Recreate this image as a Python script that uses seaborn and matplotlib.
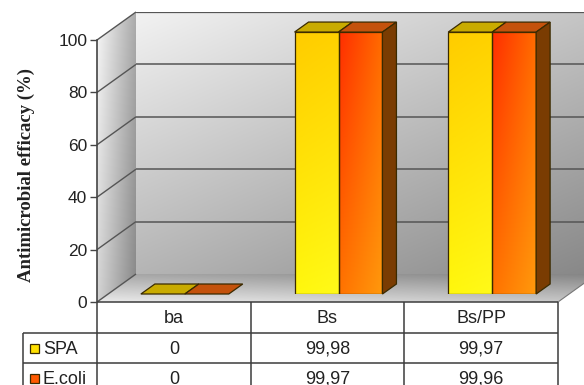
import numpy as np
import pandas as pd
import matplotlib
matplotlib.use("Agg")
import matplotlib.pyplot as plt
import seaborn as sns
from matplotlib.patches import Polygon, Rectangle

# ---- data ----
categories = ["ba", "Bs", "Bs/PP"]
series = ["SPA", "E.coli"]
spa_values = [0, 99.98, 99.97]
ecoli_values = [0, 99.97, 99.96]
y_ticks = [0, 20, 40, 60, 80, 100]
y_label = "Antimicrobial efficacy (%)"

df = pd.DataFrame({
    "category": categories * 2,
    "series": [series[0]] * 3 + [series[1]] * 3,
    "value": spa_values + ecoli_values,
})

# ---- layout (pixels) ----
W, H = 584, 385
FRONT = (97, 40, 461, 262)      # left, top, width, height of the front plane
BACK_SHIFT = (39, -28)          # depth of the 3D box
BAR_SHIFT = (11, -8)            # bars stand half way into the box
BAR_DEPTH = (14, -10)           # depth of each bar
ROW_EDGES = [302, 333, 363, 393]
LABEL_LEFT = 23

sns.set_theme(style="white")
plt.rcParams["font.family"] = ["Liberation Sans", "DejaVu Sans"]

fig = plt.figure(figsize=(W / 100, H / 100), dpi=100)


def rect(l, t, w, h):
    return [l / W, 1 - (t + h) / H, w / W, h / H]


def gray(v):
    return np.dstack([v, v, v])


# full-figure canvas in pixel coordinates for walls and table
canvas = fig.add_axes([0, 0, 1, 1], zorder=0)
canvas.set_xlim(0, W)
canvas.set_ylim(H, 0)
canvas.axis("off")

fl, ft, fw, fh = FRONT
bx, by = BACK_SHIFT
fb = ft + fh  # front floor line


def shaded_poly(pts, func, n=200):
    pts = np.asarray(pts, float)
    x0, y0 = pts.min(axis=0)
    x1, y1 = pts.max(axis=0)
    tx, ty = np.meshgrid(np.linspace(0, 1, n), np.linspace(0, 1, n))
    img = np.clip(func(tx, ty), 0, 1)
    poly = Polygon(pts, closed=True, facecolor="none", edgecolor="none",
                   transform=canvas.transData)
    canvas.add_patch(poly)
    im = canvas.imshow(gray(img), extent=(x0, x1, y1, y0), origin="upper",
                       aspect="auto", interpolation="bilinear", zorder=0)
    im.set_clip_path(poly)


# left wall
left_wall = [(fl, ft), (fl + bx, ft + by), (fl + bx, fb + by), (fl, fb)]
shaded_poly(left_wall, lambda tx, ty: 0.97 - 0.30 * tx - 0.14 * ty)
# floor
floor = [(fl, fb), (fl + fw, fb), (fl + fw + bx, fb + by), (fl + bx, fb + by)]
shaded_poly(floor, lambda tx, ty: 0.66 + 0.26 * ty - 0.14 * tx)

canvas.set_xlim(0, W)
canvas.set_ylim(H, 0)

# back wall with grid lines
back = fig.add_axes(rect(fl + bx, ft + by, fw, fh), zorder=1)
back.set_xlim(-0.5, 2.5)
back.set_ylim(0, 100)
tx, ty = np.meshgrid(np.linspace(0, 1, 300), np.linspace(0, 1, 300))
back.imshow(gray(np.clip(0.95 - 0.24 * ty - 0.18 * tx, 0, 1)),
            extent=(-0.5, 2.5, 0, 100), origin="upper", aspect="auto",
            interpolation="bilinear")
for t in y_ticks[1:]:
    back.axhline(t, color="#555555", lw=1.1 if t < 100 else 0.9, zorder=2)
back.set_xlim(-0.5, 2.5)
back.set_ylim(0, 100)
back.axis("off")

# diagonal grid lines on the left wall
for t in y_ticks:
    yy = fb - fh * t / 100
    canvas.plot([fl, fl + bx], [yy, yy + by], color="#555555", lw=1.0,
                zorder=1, solid_capstyle="butt")
canvas.plot([fl + fw, fl + fw + bx], [fb, fb + by], color="#777777", lw=0.8,
            zorder=1)

# bars
bars = fig.add_axes(rect(fl + BAR_SHIFT[0], ft + BAR_SHIFT[1], fw, fh),
                    zorder=2)
bars.patch.set_alpha(0)
sns.barplot(data=df, x="category", y="value", hue="series",
            palette={"SPA": "#FFE000", "E.coli": "#FF6000"},
            width=0.572, legend=False, ax=bars,
            edgecolor="#3a2a00", linewidth=0.9)
bars.set_xlim(-0.5, 2.5)
bars.set_ylim(0, 100)
bars.axis("off")

inv = bars.transData.inverted()
o = inv.transform(bars.transData.transform((0, 0)))
d = inv.transform(bars.transData.transform((0, 0)) +
                  np.array([BAR_DEPTH[0], -BAR_DEPTH[1]]))
ddx, ddy = d - o

front_grad = {
    0: (np.array([1.0, 0.80, 0.0]), np.array([1.0, 0.82, 0.0]),
        np.array([1.0, 0.97, 0.05]), np.array([1.0, 0.98, 0.1])),
    1: (np.array([1.0, 0.18, 0.0]), np.array([1.0, 0.42, 0.0]),
        np.array([1.0, 0.45, 0.0]), np.array([1.0, 0.60, 0.05])),
}
top_color = {0: "#c9ab00", 1: "#c4520c"}
side_color = "#7a3c02"
edge = "#3a2a00"

for hi, cont in enumerate(bars.containers):
    for p in cont.patches:
        x, w, h = p.get_x(), p.get_width(), p.get_height()
        if h > 0:
            tl, tr, bl, br = front_grad[hi]
            u, v = np.meshgrid(np.linspace(0, 1, 60), np.linspace(0, 1, 200))
            img = ((1 - u)[..., None] * (1 - v)[..., None] * tl
                   + u[..., None] * (1 - v)[..., None] * tr
                   + (1 - u)[..., None] * v[..., None] * bl
                   + u[..., None] * v[..., None] * br)
            im = bars.imshow(np.clip(img, 0, 1), extent=(x, x + w, 0, h),
                             origin="upper", aspect="auto",
                             interpolation="bilinear", zorder=2,
                             clip_on=False)
            im.set_clip_path(p)
            p.set_zorder(3)
            p.set_facecolor("none")
        top = Polygon([(x, h), (x + w, h), (x + w + ddx, h + ddy),
                       (x + ddx, h + ddy)], closed=True,
                      facecolor=top_color[hi], edgecolor=edge, lw=0.9,
                      zorder=4, clip_on=False)
        bars.add_patch(top)
        if hi == 1 and h > 0:
            side = Polygon([(x + w, 0), (x + w, h), (x + w + ddx, h + ddy),
                            (x + w + ddx, ddy)], closed=True,
                           facecolor=side_color, edgecolor=edge, lw=0.9,
                           zorder=4, clip_on=False)
            bars.add_patch(side)
bars.set_xlim(-0.5, 2.5)
bars.set_ylim(0, 100)

# front plane: value axis
front = fig.add_axes(rect(*FRONT), zorder=3)
front.patch.set_alpha(0)
front.set_xlim(-0.5, 2.5)
front.set_ylim(0, 100)
front.set_xticks([])
front.set_yticks(y_ticks)
front.set_yticklabels([str(t) for t in y_ticks], fontsize=12.5,
                      color="#222222")
front.tick_params(axis="y", direction="out", length=5, width=1,
                  color="#444444", pad=2, left=True)
for s in ["top", "right", "bottom"]:
    front.spines[s].set_visible(False)
front.spines["left"].set_color("#444444")
front.spines["left"].set_linewidth(1.2)
front.grid(False)

fig.text(26 / W, 1 - 175 / H, y_label, rotation=90, ha="center",
         va="center", fontsize=13.5, fontweight="bold",
         family=["Liberation Serif", "DejaVu Serif"], color="#222222")

# data table
col_edges = [front.transData.transform((c, 0))[0]
             for c in np.arange(len(categories) + 1) - 0.5]
col_edges = [canvas.transData.inverted().transform((c, 0))[0]
             for c in col_edges]
line_kw = dict(color="#3c3c3c", lw=1.1, zorder=5, solid_capstyle="butt")
canvas.plot([col_edges[0], col_edges[-1]], [ROW_EDGES[0]] * 2, **line_kw)
for r in ROW_EDGES[1:]:
    canvas.plot([LABEL_LEFT, col_edges[-1]], [r, r], **line_kw)
for c in col_edges:
    canvas.plot([c, c], [ROW_EDGES[0], ROW_EDGES[-1]], **line_kw)
canvas.plot([LABEL_LEFT, LABEL_LEFT], [ROW_EDGES[1], ROW_EDGES[-1]], **line_kw)


def fmt(v):
    return "0" if v == 0 else f"{v:.2f}".replace(".", ",")


TABLE_FS = 13
for i, cat in enumerate(categories):
    cx = (col_edges[i] + col_edges[i + 1]) / 2
    canvas.text(cx, (ROW_EDGES[0] + ROW_EDGES[1]) / 2 + 1, cat, ha="center",
                va="center", fontsize=TABLE_FS, color="#222222", zorder=6)
    for r, vals in enumerate([spa_values, ecoli_values]):
        canvas.text(cx, (ROW_EDGES[r + 1] + ROW_EDGES[r + 2]) / 2 + 1,
                    fmt(vals[i]), ha="center", va="center",
                    fontsize=TABLE_FS, color="#222222", zorder=6)

key_colors = ["#ffe000", "#ff5a00"]
for r, name in enumerate(series):
    cy = (ROW_EDGES[r + 1] + ROW_EDGES[r + 2]) / 2
    canvas.add_patch(Rectangle((30, cy - 4), 9, 9, facecolor=key_colors[r],
                               edgecolor="#3a2a00", lw=0.9, zorder=6))
    canvas.text(43, cy + 1, name, ha="left", va="center", fontsize=TABLE_FS,
                color="#222222", zorder=6)

fig.savefig("out.png", dpi=100)
